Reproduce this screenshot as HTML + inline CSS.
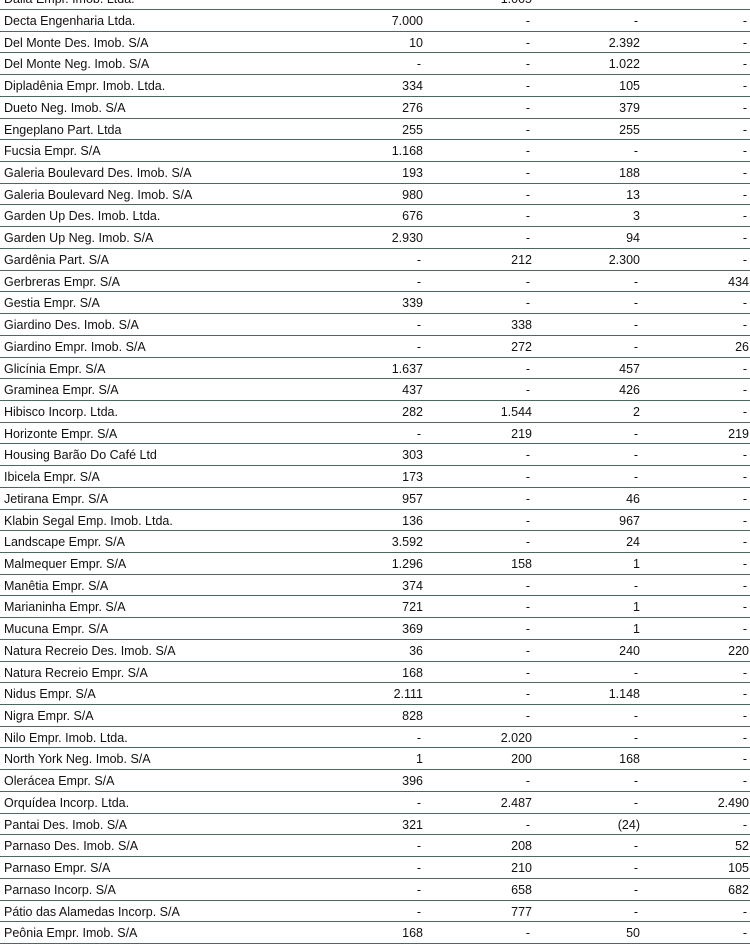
<!DOCTYPE html><html><head><meta charset="utf-8"><style>
body{margin:0;width:750px;height:948px;overflow:hidden;background:#fff;position:relative;font-family:"Liberation Sans",sans-serif;font-size:12.5px;color:#111}
.r{position:absolute;left:0;width:750px;height:21.72px;box-sizing:border-box;border-bottom:1.5px solid #4d6763}
.r span{position:absolute;top:0;line-height:23px;white-space:nowrap}
.n{left:4px}
.c1{right:327px}.c2{right:218px}.c3{right:110px}.c4{right:1px}
</style></head><body>
<div id="t"></div>
<script>
var d=[["Dalia Empr. Imob. Ltda.","-","1.005","-","-"],
["Decta Engenharia Ltda.","7.000","-","-","-"],
["Del Monte Des. Imob. S/A","10","-","2.392","-"],
["Del Monte Neg. Imob. S/A","-","-","1.022","-"],
["Dipladênia Empr. Imob. Ltda.","334","-","105","-"],
["Dueto Neg. Imob. S/A","276","-","379","-"],
["Engeplano Part. Ltda","255","-","255","-"],
["Fucsia Empr. S/A","1.168","-","-","-"],
["Galeria Boulevard Des. Imob. S/A","193","-","188","-"],
["Galeria Boulevard Neg. Imob. S/A","980","-","13","-"],
["Garden Up Des. Imob. Ltda.","676","-","3","-"],
["Garden Up Neg. Imob. S/A","2.930","-","94","-"],
["Gardênia Part. S/A","-","212","2.300","-"],
["Gerbreras Empr. S/A","-","-","-","434"],
["Gestia Empr. S/A","339","-","-","-"],
["Giardino Des. Imob. S/A","-","338","-","-"],
["Giardino Empr. Imob. S/A","-","272","-","26"],
["Glicínia Empr. S/A","1.637","-","457","-"],
["Graminea Empr. S/A","437","-","426","-"],
["Hibisco Incorp. Ltda.","282","1.544","2","-"],
["Horizonte Empr. S/A","-","219","-","219"],
["Housing Barão Do Café Ltd","303","-","-","-"],
["Ibicela Empr. S/A","173","-","-","-"],
["Jetirana Empr. S/A","957","-","46","-"],
["Klabin Segal Emp. Imob. Ltda.","136","-","967","-"],
["Landscape Empr. S/A","3.592","-","24","-"],
["Malmequer Empr. S/A","1.296","158","1","-"],
["Manêtia Empr. S/A","374","-","-","-"],
["Marianinha Empr. S/A","721","-","1","-"],
["Mucuna Empr. S/A","369","-","1","-"],
["Natura Recreio Des. Imob. S/A","36","-","240","220"],
["Natura Recreio Empr. S/A","168","-","-","-"],
["Nidus Empr. S/A","2.111","-","1.148","-"],
["Nigra Empr. S/A","828","-","-","-"],
["Nilo Empr. Imob. Ltda.","-","2.020","-","-"],
["North York Neg. Imob. S/A","1","200","168","-"],
["Olerácea Empr. S/A","396","-","-","-"],
["Orquídea Incorp. Ltda.","-","2.487","-","2.490"],
["Pantai Des. Imob. S/A","321","-","(24)","-"],
["Parnaso Des. Imob. S/A","-","208","-","52"],
["Parnaso Empr. S/A","-","210","-","105"],
["Parnaso Incorp. S/A","-","658","-","682"],
["Pátio das Alamedas Incorp. S/A","-","777","-","-"],
["Peônia Empr. Imob. S/A","168","-","50","-"]];
var h="";
d.forEach(function(r,i){
var top=-11.72+21.72*i;
h+='<div class="r" style="top:'+top.toFixed(2)+'px">';
h+='<span class="n">'+r[0]+'</span>';
for(var c=1;c<5;c++){var v=r[c];var pad=(v=="-")?"padding-right:2px":"";h+='<span class="c'+c+'" style="'+pad+'">'+v+'</span>';}
h+='</div>';});
document.getElementById("t").innerHTML=h;
</script>
</body></html>
